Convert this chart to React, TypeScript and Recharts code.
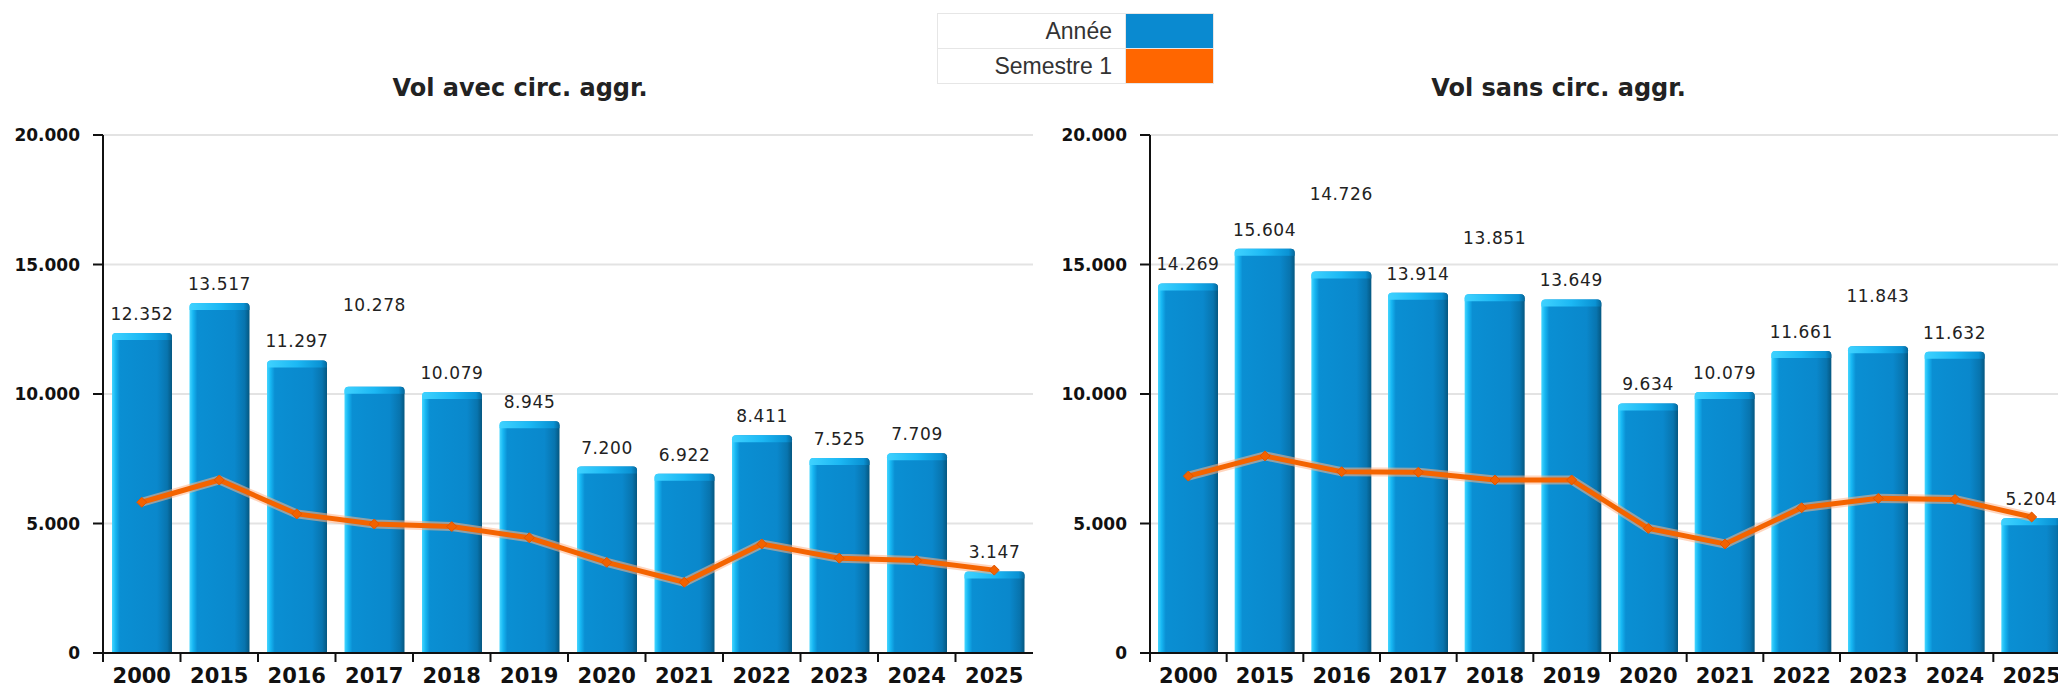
import { ComposedChart, Bar, Line, XAxis, YAxis, CartesianGrid, LabelList } from 'recharts'

const years = ['2000', '2015', '2016', '2017', '2018', '2019', '2020', '2021', '2022', '2023', '2024', '2025']
const avecAnnee = [12352, 13517, 11297, 10278, 10079, 8945, 7200, 6922, 8411, 7525, 7709, 3147]
const avecSemestre = [5820, 6680, 5370, 4980, 4880, 4450, 3500, 2730, 4210, 3660, 3570, 3200]
const sansAnnee = [14269, 15604, 14726, 13914, 13851, 13649, 9634, 10079, 11661, 11843, 11632, 5204]
const sansSemestre = [6830, 7610, 7000, 6980, 6680, 6680, 4810, 4210, 5610, 5970, 5930, 5250]
const yTicks = [0, 5000, 10000, 15000, 20000]

const Y_MAX = 20000
const PLOT_TOP = 135
const PLOT_H = 518
const AXIS_W = 103
const X_AXIS_H = 36
const TICK_SIZE = 9
const TICK_MARGIN = 6
const LABEL_GAP = 19
const FONT = '"DejaVu Sans", Verdana, sans-serif'

const fmt = (v: number) => String(Math.round(v)).replace(/\B(?=(\d{3})+(?!\d))/g, '.')

// push a value label up when it would collide with the one on its left
function labelLifts(values: number[], step: number) {
  const k = PLOT_H / Y_MAX
  const placed: number[] = []
  const lifts: number[] = []
  const textW = (v: number) => fmt(v).length * 10.5 + 16
  values.forEach((v, i) => {
    const natural = v * k + LABEL_GAP
    let h = natural
    if (i > 0) {
      const prev = placed[i - 1]
      const overlapX = (textW(values[i - 1]) + textW(v)) / 2 > step
      if (overlapX && Math.abs(h - prev) < 28) h = prev + 36
    }
    placed.push(h)
    lifts.push(h - natural)
  })
  return lifts
}

function BarShape(props: any) {
  const { x, y, width, height } = props
  if (!height || height <= 0) return null
  const r = 4
  const body = `M${x},${y + height} L${x},${y + r} Q${x},${y} ${x + r},${y} L${x + width - r},${y} Q${x + width},${y} ${x + width},${y + r} L${x + width},${y + height} Z`
  const capH = 7
  const cap = `M${x},${y + capH} L${x},${y + r} Q${x},${y} ${x + r},${y} L${x + width - r},${y} Q${x + width},${y} ${x + width},${y + r} L${x + width},${y + capH} L${x + width - 5},${y + capH} L${x + 5},${y + capH} Z`
  return (
    <g>
      <path d={body} fill="url(#barGrad)" />
      <path d={cap} fill="url(#capGrad)" />
    </g>
  )
}

function Diamond(props: any) {
  const { cx, cy } = props
  if (cx == null || cy == null) return null
  const s = 5
  return <path d={`M${cx},${cy - s} L${cx + s},${cy} L${cx},${cy + s} L${cx - s},${cy} Z`} fill="#f26200" stroke="#e05500" strokeWidth={1} />
}

function XTick(props: any) {
  const { x, y, payload, step } = props
  const half = step / 2
  const top = y - TICK_SIZE - TICK_MARGIN
  return (
    <g>
      <line x1={x - half} x2={x - half} y1={top} y2={top + TICK_SIZE} stroke="#111" strokeWidth={2} />
      <text x={x} y={y} dy="0.71em" textAnchor="middle" fontFamily={FONT} fontWeight="bold" fontSize={21} fill="#111">
        {payload.value}
      </text>
    </g>
  )
}

interface PanelProps {
  title: string
  annee: number[]
  semestre: number[]
  plotW: number
  left: number
}

function Panel({ title, annee, semestre, plotW, left }: PanelProps) {
  const data = years.map((year, i) => ({ year, annee: annee[i], semestre: semestre[i] }))
  const step = plotW / years.length
  const lifts = labelLifts(annee, step)
  const width = AXIS_W + plotW
  const height = PLOT_TOP + PLOT_H + X_AXIS_H

  const renderLabel = (p: any) => {
    const { x, y, width: w, value, index } = p
    return (
      <text
        x={x + w / 2}
        y={y - LABEL_GAP - lifts[index]}
        textAnchor="middle"
        dominantBaseline="central"
        fontFamily={FONT}
        fontSize={17}
        letterSpacing={0.6}
        fill="#222"
      >
        {fmt(value)}
      </text>
    )
  }

  return (
    <div style={{ position: 'absolute', left, top: 0, width, height }}>
      <div
        style={{
          position: 'absolute',
          left: 0,
          top: 76,
          width: left === 0 ? 1040 : width,
          textAlign: 'center',
          fontFamily: FONT,
          fontWeight: 'bold',
          fontSize: 24,
          lineHeight: '24px',
          color: '#222'
        }}
      >
        {title}
      </div>
      <ComposedChart width={width} height={height} data={data} margin={{ top: PLOT_TOP, right: 0, left: 0, bottom: 0 }}>
        <defs>
          <linearGradient id="barGrad" x1="0" y1="0" x2="1" y2="0">
            <stop offset="0%" stopColor="#45d6ff" />
            <stop offset="6%" stopColor="#16b6f2" />
            <stop offset="13%" stopColor="#0a8fd3" />
            <stop offset="75%" stopColor="#0a88cc" />
            <stop offset="92%" stopColor="#0874ae" />
            <stop offset="100%" stopColor="#055780" />
          </linearGradient>
          <linearGradient id="capGrad" x1="0" y1="0" x2="1" y2="0">
            <stop offset="0%" stopColor="#3fd2ff" />
            <stop offset="50%" stopColor="#1cb8f4" />
            <stop offset="90%" stopColor="#0a92d4" />
            <stop offset="100%" stopColor="#06679a" />
          </linearGradient>
        </defs>
        <CartesianGrid vertical={false} stroke="#e3e3e3" strokeWidth={2} />
        <XAxis
          dataKey="year"
          height={X_AXIS_H}
          tickLine={false}
          tickSize={TICK_SIZE}
          tickMargin={TICK_MARGIN}
          axisLine={{ stroke: '#111', strokeWidth: 2 }}
          interval={0}
          tick={<XTick step={step} />}
        />
        <YAxis
          width={AXIS_W}
          domain={[0, Y_MAX]}
          ticks={yTicks}
          tickFormatter={fmt}
          tickSize={10}
          tickMargin={13}
          tickLine={{ stroke: '#111', strokeWidth: 2 }}
          axisLine={{ stroke: '#111', strokeWidth: 2 }}
          tick={{ fontFamily: FONT, fontWeight: 'bold', fontSize: 17, fill: '#111' }}
        />
        <Bar dataKey="annee" barSize={60} shape={<BarShape />} isAnimationActive={false}>
          <LabelList dataKey="annee" content={renderLabel} />
        </Bar>
        <Line
          dataKey="semestre"
          type="linear"
          stroke="#ffb58a"
          strokeWidth={9}
          strokeOpacity={0.55}
          dot={false}
          activeDot={false}
          isAnimationActive={false}
        />
        <Line
          dataKey="semestre"
          type="linear"
          stroke="#f46400"
          strokeWidth={5}
          dot={<Diamond />}
          activeDot={false}
          isAnimationActive={false}
        />
      </ComposedChart>
    </div>
  )
}

function LegendBox() {
  const rows = [
    { label: 'Année', color: '#0a8ad0' },
    { label: 'Semestre 1', color: '#ff6600' }
  ]
  return (
    <div
      style={{
        position: 'absolute',
        left: 937,
        top: 13,
        width: 277,
        border: '1px solid #e6e6e6',
        fontFamily: '"Liberation Sans", Arial, sans-serif',
        fontSize: 23,
        color: '#333',
        boxSizing: 'border-box'
      }}
    >
      {rows.map((r, i) => (
        <div key={r.label} style={{ display: 'flex', height: 34, borderTop: i > 0 ? '1px solid #e6e6e6' : 'none' }}>
          <div style={{ width: 187, textAlign: 'right', paddingRight: 13, boxSizing: 'border-box', lineHeight: '34px' }}>{r.label}</div>
          <div style={{ flex: 1, background: r.color, borderLeft: '1px solid #e6e6e6' }} />
        </div>
      ))}
    </div>
  )
}

export default function App() {
  return (
    <div style={{ position: 'absolute', left: 0, top: 0, width: 2058, height: 689, overflow: 'hidden', background: '#fff' }}>
      <Panel title="Vol avec circ. aggr." annee={avecAnnee} semestre={avecSemestre} plotW={930} left={0} />
      <Panel title="Vol sans circ. aggr." annee={sansAnnee} semestre={sansSemestre} plotW={920} left={1047} />
      <LegendBox />
    </div>
  )
}
